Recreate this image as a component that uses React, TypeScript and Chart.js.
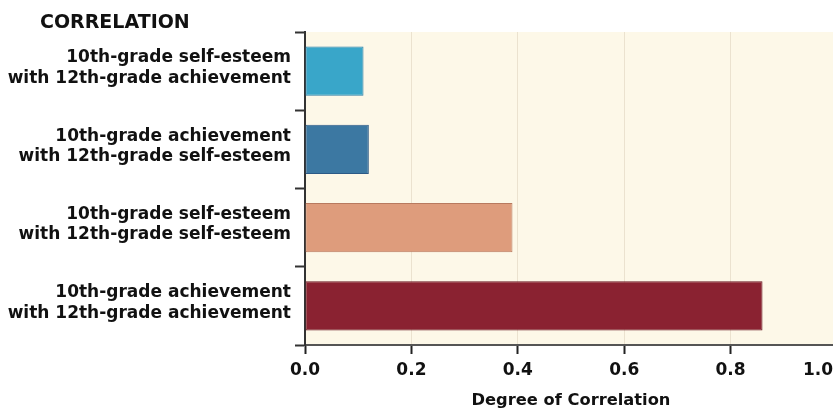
import React, { useEffect, useRef } from "react";
import { Chart, registerables } from "chart.js";

Chart.register(...registerables);

const categories: string[][] = [
  ["10th-grade self-esteem", "with 12th-grade achievement"],
  ["10th-grade achievement", "with 12th-grade self-esteem"],
  ["10th-grade self-esteem", "with 12th-grade self-esteem"],
  ["10th-grade achievement", "with 12th-grade achievement"],
];
const correlationValues: number[] = [0.11, 0.12, 0.39, 0.86];
const barColors: string[] = ["#39a6c9", "#3c78a2", "#de9c7c", "#8a2231"];
const barBorders: string[] = ["#2b7ca6", "#2c5a86", "#b87a5f", "#6a1722"];
const xTickValues: number[] = [0, 0.2, 0.4, 0.6, 0.8, 1.0];
const chartTitle = "CORRELATION";
const xAxisTitle = "Degree of Correlation";

const FONT = "'DejaVu Sans', sans-serif";
const VIEW_W = 833;
const CANVAS_W = 837;

const bgPlugin = {
  id: "plotBg",
  beforeDraw(chart: any) {
    const { ctx, chartArea } = chart;
    ctx.save();
    ctx.fillStyle = "#fdf8e8";
    ctx.fillRect(chartArea.left, chartArea.top, chartArea.right - chartArea.left, chartArea.bottom - chartArea.top);
    ctx.restore();
    // keep the last x tick label inside the visible page
    const xs = chart.scales.x;
    if (xs) {
      const items = xs.getLabelItems();
      const last = items[items.length - 1];
      if (last && last.options) {
        last.options.textAlign = "right";
        last.options.translation = [VIEW_W, last.options.translation[1]];
      }
    }
  },
};

export default function App() {
  const ref = useRef<HTMLCanvasElement | null>(null);
  useEffect(() => {
    document.body.style.margin = "0";
    if (!ref.current) return;
    const chart = new Chart(ref.current, {
      type: "bar",
      data: {
        labels: categories,
        datasets: [
          {
            data: correlationValues,
            backgroundColor: barColors,
            borderColor: barBorders,
            borderWidth: 1,
            borderSkipped: false,
            barPercentage: 0.63,
            categoryPercentage: 1,
          },
        ],
      },
      options: {
        indexAxis: "y",
        animation: false,
        responsive: false,
        devicePixelRatio: 1,
        layout: { padding: { top: 32, left: 0, right: 0, bottom: 0 } },
        plugins: {
          legend: { display: false },
          title: { display: false },
          tooltip: { enabled: false },
        },
        scales: {
          x: {
            min: 0,
            max: 1,
            afterBuildTicks(scale: any) {
              scale.ticks = xTickValues.map((v) => ({ value: v }));
            },
            afterFit(scale: any) {
              scale.height = 66;
              scale.paddingRight = 0;
              scale.paddingLeft = 0;
            },
            ticks: {
              color: "#111",
              font: { family: FONT, size: 17, weight: "bold" },
              padding: 6,
              maxRotation: 0,
              callback: (v: any) => Number(v).toFixed(1),
            },
            grid: {
              color: "#ebe2cf",
              lineWidth: 1,
              tickColor: "#222",
              tickLength: 9,
              tickWidth: 2,
            },
            border: { color: "#555", width: 2 },
            title: {
              display: true,
              text: xAxisTitle,
              color: "#111",
              font: { family: FONT, size: 16.3, weight: "bold" },
              padding: { top: 6, bottom: 0 },
            },
          },
          y: {
            afterFit(scale: any) {
              scale.width = 305;
            },
            ticks: {
              color: "#111",
              font: { family: FONT, size: 17, weight: "bold", lineHeight: "20.5px" },
              padding: 4,
              labelOffset: -3,
            },
            grid: {
              drawOnChartArea: false,
              drawTicks: true,
              tickLength: 10,
              tickColor: "#333",
              tickWidth: 2,
              offset: true,
            },
            border: { color: "#333", width: 2 },
          },
        },
      },
      plugins: [bgPlugin],
    } as any);
    return () => chart.destroy();
  }, []);
  return (
    <div style={{ position: "relative", width: VIEW_W, height: 411, overflow: "hidden" }}>
      <canvas ref={ref} width={CANVAS_W} height={411} style={{ display: "block" }} />
      <div
        style={{
          position: "absolute",
          left: 40,
          top: 10,
          fontFamily: FONT,
          fontWeight: "bold",
          fontSize: 19,
          color: "#111",
          lineHeight: "22px",
          whiteSpace: "nowrap",
        }}
      >
        {chartTitle}
      </div>
    </div>
  );
}
